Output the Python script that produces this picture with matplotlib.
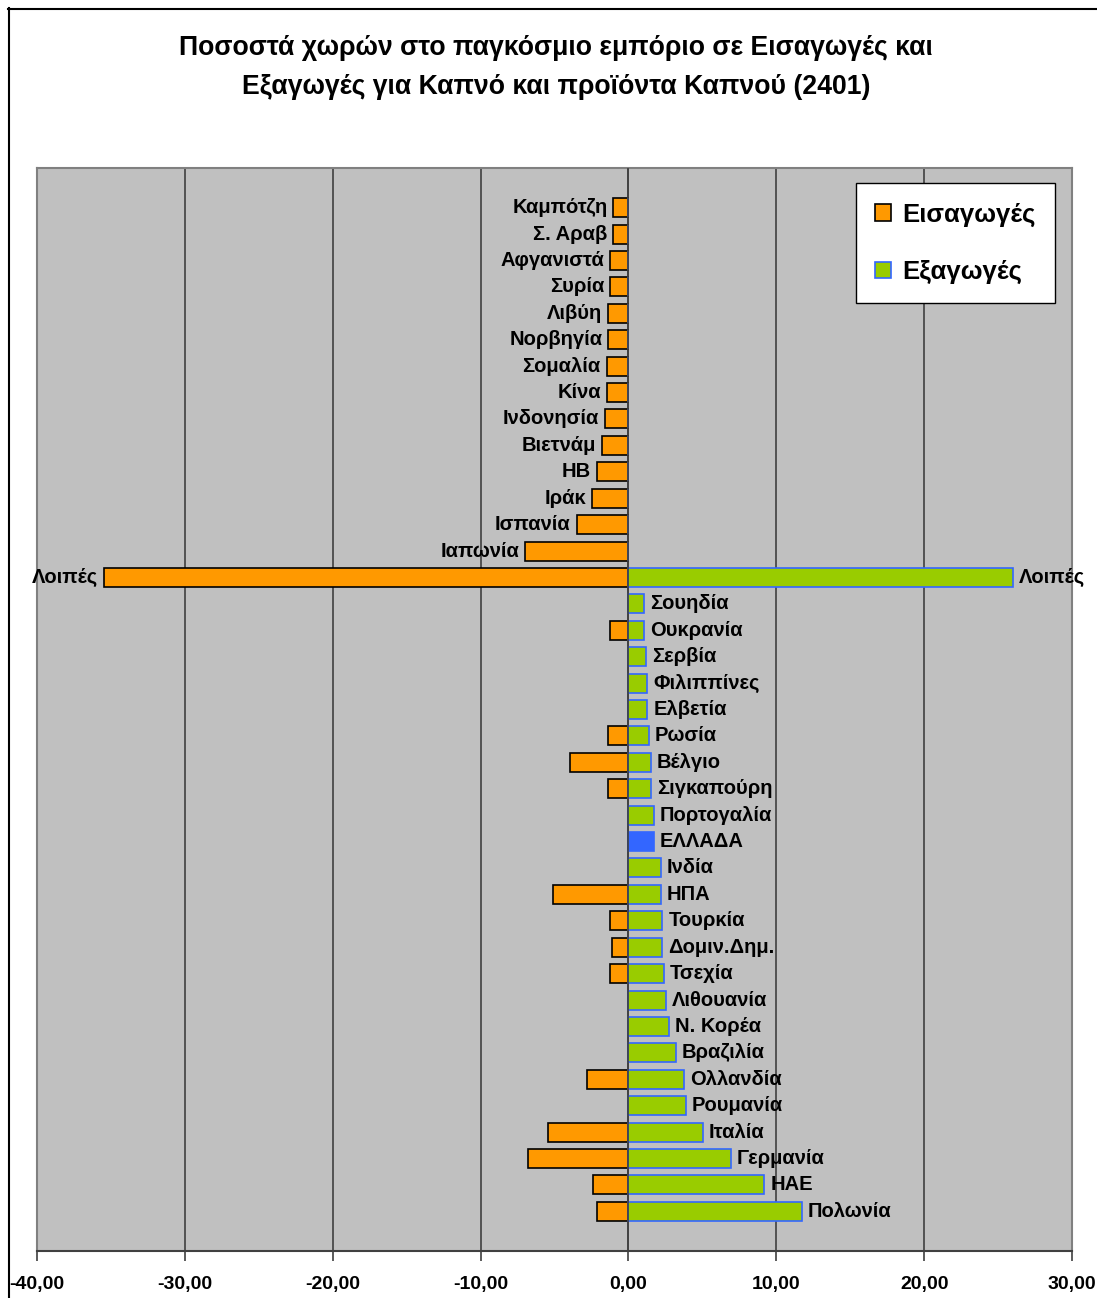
import matplotlib.pyplot as plt
from matplotlib.lines import Line2D
from matplotlib.patches import Patch

plt.rcParams['font.family'] = ['Liberation Sans', 'DejaVu Sans']

# countries, top to bottom
countries = ['Καμπότζη', 'Σ. Αραβ', 'Αφγανιστά', 'Συρία', 'Λιβύη', 'Νορβηγία',
             'Σομαλία', 'Κίνα', 'Ινδονησία', 'Βιετνάμ', 'ΗΒ', 'Ιράκ', 'Ισπανία',
             'Ιαπωνία', 'Λοιπές', 'Σουηδία', 'Ουκρανία', 'Σερβία', 'Φιλιππίνες',
             'Ελβετία', 'Ρωσία', 'Βέλγιο', 'Σιγκαπούρη', 'Πορτογαλία', 'ΕΛΛΑΔΑ',
             'Ινδία', 'ΗΠΑ', 'Τουρκία', 'Δομιν.Δημ.', 'Τσεχία', 'Λιθουανία',
             'Ν. Κορέα', 'Βραζιλία', 'Ολλανδία', 'Ρουμανία', 'Ιταλία', 'Γερμανία',
             'ΗΑΕ', 'Πολωνία']

# imports share (shown as negative)
imports = [-1.02, -1.05, -1.25, -1.25, -1.35, -1.35, -1.47, -1.47, -1.58, -1.81,
           -2.15, -2.48, -3.5, -7.0, -35.46, 0, -1.25, 0, 0,
           0, -1.35, -3.97, -1.35, 0, 0,
           0, -5.1, -1.25, -1.13, -1.25, 0,
           0, 0, -2.82, 0, -5.42, -6.77,
           -2.37, -2.15]

# exports share
exports = [0, 0, 0, 0, 0, 0, 0, 0, 0, 0,
           0, 0, 0, 0, 26.0, 1.06, 1.06, 1.17, 1.28,
           1.28, 1.40, 1.51, 1.51, 1.74, 1.74,
           2.19, 2.19, 2.30, 2.30, 2.41, 2.53,
           2.75, 3.2, 3.77, 3.88, 5.01, 6.93,
           9.19, 11.71]

xticks = [-40, -30, -20, -10, 0, 10, 20, 30]
xtick_labels = ['-40,00', '-30,00', '-20,00', '-10,00', '0,00', '10,00', '20,00', '30,00']

orange = '#FF9900'
green = '#99CC00'
blue = '#3366FF'

fig = plt.figure(figsize=(10.97, 12.98), dpi=100)
ax = fig.add_axes([37 / 1097, 1 - 1251 / 1298, (1072 - 37) / 1097, (1251 - 168) / 1298])
ax.set_facecolor('#C0C0C0')

y = list(range(len(countries)))
h = 0.72
ax.barh(y, imports, height=h, color=orange, edgecolor='black', linewidth=1.2, zorder=3)
ex_colors = [blue if c == 'ΕΛΛΑΔΑ' else green for c in countries]
ax.barh(y, exports, height=h, color=ex_colors, edgecolor=blue, linewidth=1.2, zorder=3)

# labels next to the bars
for i, c in enumerate(countries):
    if exports[i] > 0:
        ax.text(exports[i] + 0.4, i, c, ha='left', va='center', fontsize=14.5,
                fontweight='bold', zorder=4)
    if exports[i] == 0 or c == 'Λοιπές':
        ax.text(imports[i] - 0.4, i, c, ha='right', va='center', fontsize=14.5,
                fontweight='bold', zorder=4)

ax.set_xlim(-40, 30)
ax.set_ylim(len(countries) - 1 + 1.5, -1.5)
ax.set_xticks(xticks)
ax.set_xticklabels(xtick_labels, fontsize=14, fontweight='bold')
ax.set_yticks([])
ax.tick_params(axis='x', direction='out', length=7, width=1.2, color='#404040', pad=11)
for x in xticks[1:-1]:
    ax.axvline(x, color='#404040', linewidth=1.2, zorder=1)
ax.axvline(0, color='#404040', linewidth=1.2, zorder=5)

for s in ['top', 'right', 'left']:
    ax.spines[s].set_color('#808080')
    ax.spines[s].set_linewidth(1.5)
ax.spines['bottom'].set_color('#404040')
ax.spines['bottom'].set_linewidth(1.5)

handles = [Patch(facecolor=orange, edgecolor='black', linewidth=1.2),
           Patch(facecolor=green, edgecolor=blue, linewidth=1.2)]
leg = ax.legend(handles, ['Εισαγωγές', 'Εξαγωγές'], loc='upper right',
                bbox_to_anchor=(0.9836, 0.986), borderaxespad=0,
                prop={'size': 18.5, 'weight': 'bold'},
                frameon=True, fancybox=False, edgecolor='black', framealpha=1,
                handlelength=0.6, handleheight=0.6, handletextpad=0.45,
                labelspacing=1.3, borderpad=0.75)
leg.get_frame().set_linewidth(1.0)
for t in leg.get_texts():
    t.set_fontweight('bold')

fig.text(0.507, 1 - 48 / 1298, 'Ποσοστά χωρών στο παγκόσμιο εμπόριο σε Εισαγωγές και',
         ha='center', va='center', fontsize=19.2, fontweight='bold')
fig.text(0.507, 1 - 87 / 1298, 'Εξαγωγές για Καπνό και προϊόντα Καπνού (2401)',
         ha='center', va='center', fontsize=19.2, fontweight='bold')

# outer chart border
fig.add_artist(Line2D([8 / 1097, 1], [1 - 8.5 / 1298, 1 - 8.5 / 1298], color='black', linewidth=1.5))
fig.add_artist(Line2D([8.5 / 1097, 8.5 / 1097], [0, 1 - 8 / 1298], color='black', linewidth=1.5))

fig.savefig('out.png', dpi=100)
